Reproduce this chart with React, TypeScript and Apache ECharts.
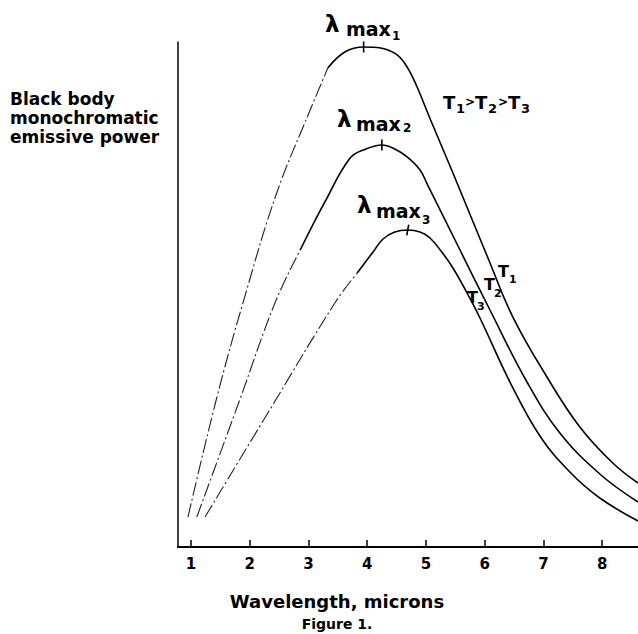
import React, { useEffect, useRef } from "react";
import * as echarts from "echarts";

// Wavelength (microns) vs. relative monochromatic emissive power
const t1Rising = [[0.95, 5.94], [1.43, 29.11], [1.9, 48.91], [2.46, 70.1], [3.03, 86.53], [3.33, 94.85]];
const t1Main = [[3.33, 94.85], [3.62, 98.02], [3.94, 99.01], [4.23, 98.81], [4.51, 97.43], [4.69, 94.85], [4.85, 91.09], [5.08, 84.55], [5.46, 74.06], [6.07, 56.83], [6.48, 45.54], [7.06, 33.66], [7.62, 23.76], [8.18, 16.63], [8.61, 12.67]];
const t2Rising = [[1.1, 5.94], [1.83, 29.11], [2.43, 48.32], [2.86, 58.81]];
const t2Main = [[2.86, 58.81], [3.28, 68.32], [3.71, 77.03], [3.98, 78.81], [4.25, 79.6], [4.47, 78.81], [4.68, 77.23], [4.9, 74.65], [5.02, 71.9], [5.58, 58.81], [6.09, 46.93], [6.72, 32.67], [7.28, 22.57], [7.96, 14.46], [8.61, 8.91]];
const t3Rising = [[1.24, 5.94], [2.34, 27.13], [3.45, 48.32], [3.83, 54.26]];
const t3Main = [[3.83, 54.26], [4.1, 58.42], [4.27, 60.99], [4.47, 62.38], [4.69, 62.77], [4.9, 62.38], [5.07, 61.19], [5.27, 58.42], [5.46, 55.25], [5.7, 50.3], [5.92, 45.35], [6.43, 32.67], [6.94, 21.98], [7.45, 14.85], [7.96, 9.7], [8.61, 5.15]];
const peaks = [[3.94, 99.01], [4.25, 79.6], [4.69, 62.77]];
const xTicks = [1, 2, 3, 4, 5, 6, 7, 8];
const yTitleLines = ["Black body", "monochromatic", "emissive power"];

const FONT = '"DejaVu Sans", "Liberation Sans", sans-serif';

function t(x: number, y: number, text: string, size: number, align = "left", vAlign = "middle") {
  return { type: "text", x, y, silent: true, style: { text, fontSize: size, fontWeight: "bold", fontFamily: FONT, fill: "#000", align, verticalAlign: vAlign } };
}

export default function App() {
  const ref = useRef<HTMLDivElement>(null);
  useEffect(() => {
    const chart = echarts.init(ref.current!, null, { renderer: "svg" });
    const rising = (data: number[][]) => ({
      type: "line", data, symbol: "none", silent: true, smooth: 0.4,
      lineStyle: { color: "#222", width: 1.1, type: [14, 3, 2, 3] },
    });
    const main = (data: number[][], peak: number[], rot: number) => ({
      type: "line", data, symbol: "none", silent: true, smooth: 0.4,
      lineStyle: { color: "#000", width: 1.6 },
      markPoint: {
        silent: true,
        symbol: "rect",
        symbolSize: [1.6, 11],
        symbolRotate: rot,
        itemStyle: { color: "#000" },
        label: { show: false },
        data: [{ coord: peak }],
      },
    });
    chart.setOption({
      animation: false,
      backgroundColor: "#fff",
      grid: { left: 178, right: 0, top: 42, bottom: 87 },
      xAxis: {
        type: "value", min: 0.78, max: 8.61,
        axisLine: { show: true, onZero: false, lineStyle: { color: "#000", width: 2 } },
        axisTick: { show: true, inside: true, length: 7, customValues: xTicks, lineStyle: { color: "#000", width: 1.5 } },
        axisLabel: { customValues: xTicks, color: "#000", fontFamily: FONT, fontWeight: "bold", fontSize: 15, margin: 9 },
        splitLine: { show: false },
      },
      yAxis: {
        type: "value", min: 0, max: 100,
        axisLine: { show: true, onZero: false, lineStyle: { color: "#000", width: 1.5 } },
        axisTick: { show: false }, axisLabel: { show: false }, splitLine: { show: false },
      },
      series: [
        rising(t1Rising), main(t1Main, peaks[0], 0),
        rising(t2Rising), main(t2Main, peaks[1], 0),
        rising(t3Rising), main(t3Main, peaks[2], -10),
      ],
      graphic: [
        t(10, 99, yTitleLines[0], 17), t(10, 118, yTitleLines[1], 17), t(10, 137, yTitleLines[2], 17),
        // lambda max labels
        t(325, 24, "λ", 23), t(346, 28.5, "max", 19), t(392, 36, "1", 12),
        t(337, 119, "λ", 23), t(356, 123.5, "max", 19), t(403, 128, "2", 12),
        t(357, 205, "λ", 23), t(376, 210.5, "max", 19), t(422, 220, "3", 12),
        // ordering legend
        t(443, 102, "T", 18), t(456, 108.5, "1", 13), t(465, 102, ">", 12),
        t(475, 102, "T", 18), t(488, 108.5, "2", 13), t(498, 102, ">", 12),
        t(508, 102, "T", 18), t(521, 108.5, "3", 13),
        // curve labels
        t(498, 271.5, "T", 16), t(509, 279, "1", 11),
        t(484, 284.5, "T", 16), t(494, 293, "2", 11),
        t(467, 297.5, "T", 16), t(477, 306, "3", 11),
        // axis title and caption
        t(337, 601, "Wavelength, microns", 18, "center"),
        t(337, 624, "Figure 1.", 14, "center"),
      ],
    });
    return () => chart.dispose();
  }, []);
  return <div ref={ref} style={{ position: "absolute", left: 0, top: 0, width: 638, height: 634 }} />;
}
